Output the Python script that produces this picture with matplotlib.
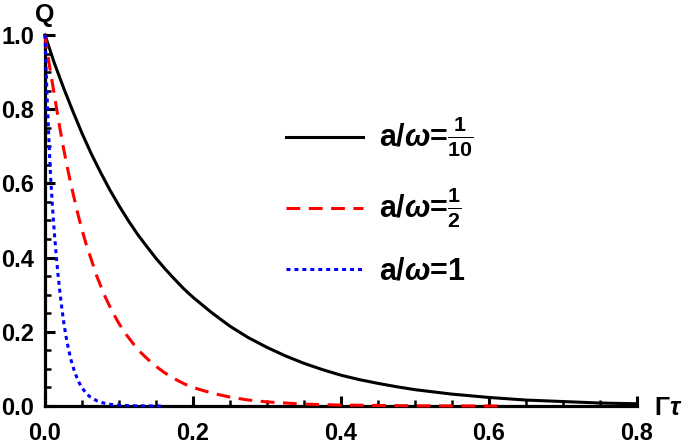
import matplotlib
matplotlib.use("Agg")
import matplotlib.pyplot as plt
from matplotlib.ticker import MultipleLocator
from matplotlib.lines import Line2D

plt.rcParams['font.family'] = ['Liberation Sans', 'DejaVu Sans']
plt.rcParams['font.weight'] = 'bold'
plt.rcParams['mathtext.fontset'] = 'custom'
plt.rcParams['mathtext.rm'] = 'Liberation Sans:bold'
plt.rcParams['mathtext.bf'] = 'Liberation Sans:bold'
plt.rcParams['mathtext.it'] = 'Liberation Sans:bold:italic'

# a/omega = 1/10
x_black = [0, 0.0125, 0.025, 0.0375, 0.05, 0.0625, 0.075, 0.0875, 0.1, 0.1125, 0.125,
           0.1375, 0.15, 0.1625, 0.175, 0.1875, 0.2, 0.225, 0.25, 0.275, 0.3, 0.325,
           0.35, 0.375, 0.4, 0.425, 0.45, 0.475, 0.5, 0.55, 0.6, 0.65, 0.7, 0.75, 0.8]
q_black = [1.0, 0.925, 0.858, 0.795, 0.735, 0.68, 0.63, 0.583, 0.54, 0.50, 0.463,
           0.43, 0.398, 0.369, 0.342, 0.316, 0.293, 0.252, 0.215, 0.184, 0.158, 0.135,
           0.115, 0.098, 0.083, 0.071, 0.061, 0.052, 0.044, 0.032, 0.023, 0.016, 0.012, 0.008, 0.006]
# a/omega = 1/2
x_red = [0, 0.005, 0.01, 0.015, 0.02, 0.025, 0.03, 0.035, 0.04, 0.045, 0.05, 0.055, 0.06,
         0.07, 0.08, 0.09, 0.1, 0.11, 0.12, 0.13, 0.14, 0.15, 0.16, 0.17, 0.18, 0.19, 0.2,
         0.225, 0.25, 0.275, 0.3, 0.35, 0.4, 0.5, 0.62]
q_red = [1.0, 0.93, 0.87, 0.81, 0.75, 0.695, 0.645, 0.598, 0.555, 0.513, 0.475, 0.44, 0.41,
         0.35, 0.30, 0.258, 0.222, 0.192, 0.166, 0.143, 0.124, 0.107, 0.092, 0.079, 0.068, 0.058, 0.05,
         0.035, 0.024, 0.016, 0.011, 0.005, 0.0025, 0.0005, 0.0]
# a/omega = 1
x_blue = [0, 0.0025, 0.005, 0.0075, 0.01, 0.0125, 0.015, 0.0175, 0.02, 0.0225, 0.025, 0.0275,
          0.03, 0.035, 0.04, 0.045, 0.05, 0.055, 0.06, 0.07, 0.08, 0.09, 0.1, 0.12, 0.16]
q_blue = [1.0, 0.85, 0.73, 0.62, 0.54, 0.47, 0.41, 0.355, 0.31, 0.268, 0.23, 0.198,
          0.17, 0.125, 0.092, 0.067, 0.049, 0.036, 0.026, 0.014, 0.0075, 0.004, 0.002, 0.0006, 0.0]

labels = [r'a/$\omega$=$\frac{1}{10}$', r'a/$\omega$=$\frac{1}{2}$', r'a/$\omega$=1']
x_ticks = [0.0, 0.2, 0.4, 0.6, 0.8]
y_ticks = [0.0, 0.2, 0.4, 0.6, 0.8, 1.0]

fig = plt.figure(figsize=(6.85, 4.44), dpi=100)
ax = fig.add_axes([45/685, 38/444, 592/685, 371/444])

lw = 2.2
ax.plot(x_black, q_black, color='black', lw=lw, clip_on=False, zorder=3)
ax.plot(x_red, q_red, color='#ff0000', lw=lw, dashes=(4.5, 2.8), clip_on=False, zorder=3)
ax.plot(x_blue, q_blue, color='#0000ff', lw=lw, dashes=(1.3, 1.3), clip_on=False, zorder=3)

ax.set_xlim(0, 0.8)
ax.set_ylim(0, 1.0)
for s in ['top', 'right']:
    ax.spines[s].set_visible(False)
for s in ['left', 'bottom']:
    ax.spines[s].set_linewidth(2.3)
    ax.spines[s].set_zorder(2.5)

ax.set_xticks(x_ticks)
ax.set_yticks(y_ticks)
ax.set_xticklabels([f'{v:.1f}' for v in x_ticks])
ax.set_yticklabels([f'{v:.1f}' for v in y_ticks])
ax.xaxis.set_minor_locator(MultipleLocator(0.05))
ax.yaxis.set_minor_locator(MultipleLocator(0.05))
ax.tick_params(axis='both', which='major', direction='in', length=7, width=2.2, labelsize=17)
ax.tick_params(axis='both', which='minor', direction='in', length=4, width=1.8)
ax.tick_params(axis='x', which='major', pad=11.5)
ax.tick_params(axis='y', which='major', pad=8)
for t in ax.get_xticklabels() + ax.get_yticklabels():
    t.set_fontweight('bold')

fig.text(45/685, 1 - 15/444, 'Q', ha='center', va='center', fontsize=18, fontweight='bold')
fig.text(668/685, 1 - 408/444, r'$\Gamma\tau$', ha='center', va='center', fontsize=18)

handles = [Line2D([], [], color='black', lw=lw),
           Line2D([], [], color='#ff0000', lw=lw, dashes=(4.5, 2.8)),
           Line2D([], [], color='#0000ff', lw=lw, dashes=(1.3, 1.3))]
leg = ax.legend(handles, labels, loc='upper left', bbox_to_anchor=(258/685, 1 - 87/444),
                bbox_transform=fig.transFigure, frameon=False, fontsize=22,
                handlelength=2.55, handletextpad=0.5, labelspacing=0.88)

fig.savefig('out.png', dpi=100)
